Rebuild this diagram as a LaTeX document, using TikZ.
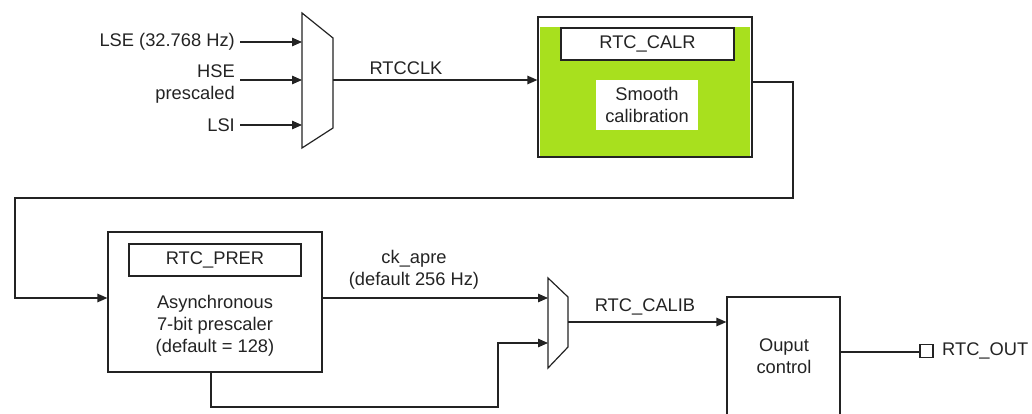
\documentclass[tikz,border=0pt]{standalone}
\usepackage{fontspec}
\setmainfont{Liberation Sans}
\usetikzlibrary{arrows.meta}
\definecolor{lime}{RGB}{168,224,30}
\definecolor{ink}{RGB}{35,35,35}
\begin{document}
\begin{tikzpicture}[x=1pt,y=-1pt,
  every node/.style={font=\fontsize{18.3}{22}\selectfont, inner sep=0pt, text=ink},
  ln/.style={line width=1.2pt, draw=ink},
  arr/.style={ln, -{Triangle[length=10pt,width=8.5pt]}},
  blk/.style={draw=ink, line width=1.2pt, rectangle},
  lbl/.style={align=center}]
\useasboundingbox (0,0) rectangle (1032,414);
% mux 1
\draw[ln] (302,13) -- (333,38) -- (333,128) -- (302,148) -- cycle;
\coordinate (m1i1) at (302,42);
\coordinate (m1i2) at (302,80);
\coordinate (m1i3) at (302,125);
\coordinate (m1o) at (333,80);
% inputs
\node[anchor=east] (lse) at (235,42) {LSE (32.768 Hz)};
\node[anchor=east, align=right] (hse) at (235,84) {HSE\\prescaled};
\node[anchor=east] (lsi) at (235,125) {LSI};
\draw[arr] ([xshift=5pt]lse.east) -- (m1i1);
\draw[arr] (hse.east |- m1i2) ++(5,0) -- (m1i2);
\draw[arr] ([xshift=5pt]lsi.east) -- (m1i3);
% calibration block
\node[blk, minimum width=214pt, minimum height=140pt] (cal) at (645,87) {};
\fill[lime] (540,27) rectangle (750,156);
\node[blk, fill=white, minimum width=173pt, minimum height=32pt] (calr) at (647.5,44) {RTC\_CALR};
\node[fill=white, minimum width=102pt, minimum height=50pt, lbl] (smooth) at (647,105) {Smooth\\calibration};
\draw[arr] (m1o) -- (m1o -| cal.west);
\node (rtcclk) at (406,68) {RTCCLK};
% prescaler block
\node[blk, minimum width=214pt, minimum height=140pt] (pre) at (215,302) {};
\node[blk, minimum width=172pt, minimum height=32pt] (prer) at (215,260) {RTC\_PRER};
\node[lbl] (async) at (215,326) {Asynchronous\\7-bit prescaler\\(default = 128)};
% feedback
\draw[arr] ([yshift=5pt]cal.east) -| (793,198) -| (15,298) -- ([yshift=4pt]pre.west);
% mux 2
\draw[ln] (548,278) -- (568,297) -- (568,347) -- (548,368) -- cycle;
\coordinate (m2i1) at (548,298);
\coordinate (m2i2) at (548,343);
\coordinate (m2o) at (568,322);
\draw[arr] ([yshift=4pt]pre.east) -- (m2i1);
\node[lbl] (ckapre) at (414,270) {ck\_apre\\(default 256 Hz)};
\draw[arr] ([xshift=-4pt]pre.south) |- (498,407) |- (m2i2);
% output control
\node[blk, minimum width=113pt, minimum height=133pt] (oc) at (783.5,363.5) {};
\node[lbl] (oct) at (784,356) {Ouput\\control};
\draw[arr] (m2o) -- (m2o -| oc.west);
\node (calib) at (645,307) {RTC\_CALIB};
% output pin
\node[blk, minimum size=13pt] (sq) at (926.5,351) {};
\draw[ln] (oc.east |- 0,352) -- (sq.west |- 0,352);
\node[anchor=west] (rtcout) at (942,351) {RTC\_OUT};
\end{tikzpicture}
\end{document}
